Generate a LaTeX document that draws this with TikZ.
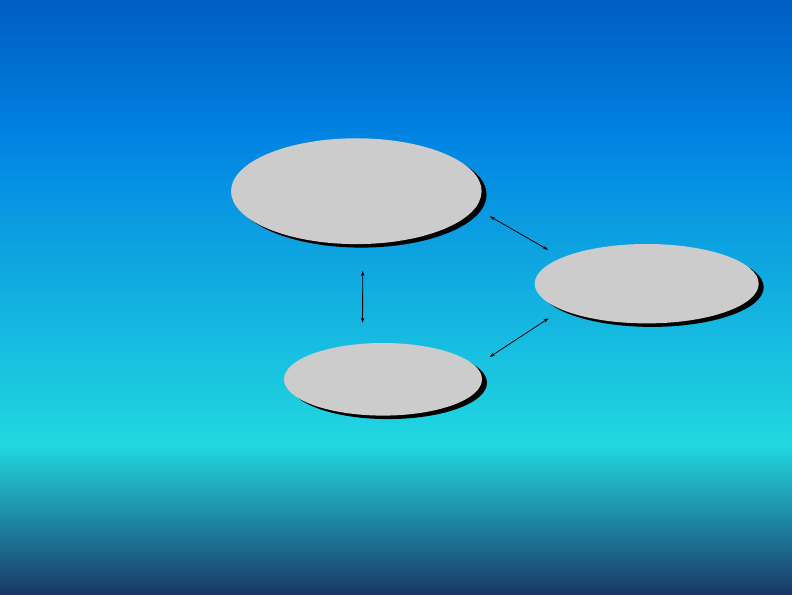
\documentclass[tikz,border=0pt]{standalone}
\usepackage{xcolor}
\usepackage{tikz}
\usetikzlibrary{shapes.geometric,shadows,arrows.meta}

\definecolor{skytop}{HTML}{005CC2}
\definecolor{skyhigh}{HTML}{0082E2}
\definecolor{skycyan}{HTML}{22D8E0}
\definecolor{skydeep}{HTML}{1A3866}
\definecolor{bubble}{HTML}{CCCCCC}

\tikzset{
    blob/.style={ellipse, fill=bubble, inner sep=0pt, outer sep=0pt,
        drop shadow={fill=black, opacity=1, shadow xshift=5pt, shadow yshift=-3.5pt}},
    link/.style={{Stealth[length=5pt,width=3.5pt]}-{Stealth[length=5pt,width=3.5pt]}, line width=0.8pt, black}
}

\begin{document}
\begin{tikzpicture}[x=1pt,y=-1pt]
    % Background
    \useasboundingbox (0,0) rectangle (792,594);
    \shade[top color=skytop, bottom color=skyhigh] (0,0) rectangle (792,130);
    \shade[top color=skyhigh, bottom color=skycyan] (0,129.5) rectangle (792,445);
    \shade[top color=skycyan, bottom color=skydeep] (0,444.5) rectangle (792,594);

    % Ellipses
    \node[blob, minimum width=250.6pt, minimum height=105.8pt] (upper) at (356.3,191.2) {};
    \node[blob, minimum width=224pt, minimum height=79.4pt] (side) at (646.7,283.7) {};
    \node[blob, minimum width=198pt, minimum height=72.6pt] (lower) at (383,379.3) {};

    % Links
    \draw[link, shorten <=17pt, shorten >=16pt] (upper.-8.7) -- (side.163.2);
    \draw[link, shorten <=27pt, shorten >=21pt] (upper.-83.4) -- (lower.120.6);
    \draw[link, shorten <=16pt, shorten >=17pt] (side.-163.4) -- (lower.8.2);
\end{tikzpicture}
\end{document}
